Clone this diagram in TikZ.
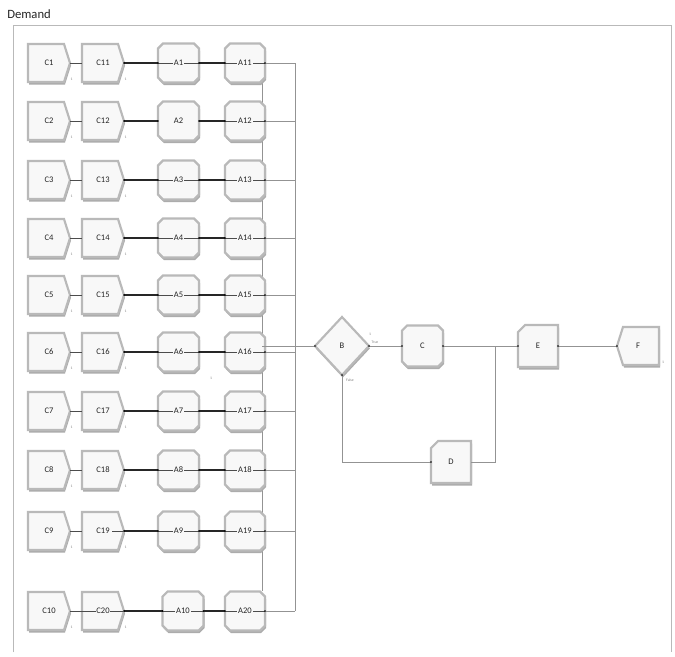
\documentclass[tikz,border=0pt]{standalone}
\usepackage{fontspec}
\setmainfont{Carlito}
\usetikzlibrary{calc}
\pgfdeclarelayer{bg}\pgfdeclarelayer{mid}
\pgfsetlayers{bg,mid,main}
\definecolor{boxfill}{HTML}{F8F8F8}
\tikzset{
 mod/.style={draw=none, fill=none, inner sep=0pt, outer sep=0pt},
 lab/.style={font=\fontsize{6.4}{7}\selectfont, fill=boxfill, inner sep=0.6pt, text=black!85},
 modedge/.style={draw=gray!55, line width=1.6pt, fill=boxfill, line join=miter},
 modshadow/.style={fill=gray!65},
 thinline/.style={draw=black!70, line width=0.45pt},
 thickline/.style={draw=black!85, line width=0.85pt},
 busline/.style={draw=gray!85, line width=0.6pt},
 tinylab/.style={font=\fontsize{2.8}{3}\selectfont, text=gray, inner sep=0pt},
 dotmark/.style={fill=black, circle, inner sep=0pt, minimum size=1.4pt}
}
\newcommand\shcreate[1]{%
  \path[modshadow] ($(#1.north west)+(1,2.5)$) -- ($(#1.north east)+(-5,2.5)$) -- ($(#1.east)+(1,2.5)$) -- ($(#1.south east)+(-5,2.5)$) -- ($(#1.south west)+(1,2.5)$) -- cycle;
  \path[modedge] (#1.north west) -- ($(#1.north east)+(-6,0)$) -- (#1.east) -- ($(#1.south east)+(-6,0)$) -- (#1.south west) -- cycle;}
\newcommand\shoct[1]{%
  \path[modshadow] ($(#1.north west)+(6,2.5)$) -- ($(#1.north east)+(-4,2.5)$) -- ($(#1.north east)+(1,7.5)$) -- ($(#1.south east)+(1,-2.5)$) -- ($(#1.south east)+(-4,2.5)$) -- ($(#1.south west)+(6,2.5)$) -- ($(#1.south west)+(1,-2.5)$) -- ($(#1.north west)+(1,7.5)$) -- cycle;
  \path[modedge] ($(#1.north west)+(5,0)$) -- ($(#1.north east)+(-5,0)$) -- ($(#1.north east)+(0,5)$) -- ($(#1.south east)+(0,-5)$) -- ($(#1.south east)+(-5,0)$) -- ($(#1.south west)+(5,0)$) -- ($(#1.south west)+(0,-5)$) -- ($(#1.north west)+(0,5)$) -- cycle;}
\newcommand\shcut[1]{%
  \path[modshadow] ($(#1.north west)+(8,2.5)$) -- ($(#1.north east)+(1,2.5)$) -- ($(#1.south east)+(1,2.5)$) -- ($(#1.south west)+(1,2.5)$) -- ($(#1.north west)+(1,9.5)$) -- cycle;
  \path[modedge] ($(#1.north west)+(7,0)$) -- (#1.north east) -- (#1.south east) -- (#1.south west) -- ($(#1.north west)+(0,7)$) -- cycle;}
\newcommand\shdispose[1]{%
  \path[modshadow] ($(#1.north west)+(7,2.5)$) -- ($(#1.north east)+(1,2.5)$) -- ($(#1.south east)+(1,2.5)$) -- ($(#1.south west)+(7,2.5)$) -- ($(#1.west)+(1,2.5)$) -- cycle;
  \path[modedge] ($(#1.north west)+(6,0)$) -- (#1.north east) -- (#1.south east) -- ($(#1.south west)+(6,0)$) -- (#1.west) -- cycle;}
\newcommand\shdiamond[1]{%
  \path[modshadow] ($(#1.north)+(0.8,2.5)$) -- ($(#1.east)+(0.8,2.5)$) -- ($(#1.south)+(0.8,2.5)$) -- ($(#1.west)+(0.8,2.5)$) -- cycle;
  \path[modedge] (#1.north) -- (#1.east) -- (#1.south) -- (#1.west) -- cycle;}
\begin{document}
\begin{tikzpicture}[x=0.75pt,y=-0.75pt]
\useasboundingbox (0,0) rectangle (675,657);
\begin{pgfonlayer}{bg}
\fill[white] (0,0) rectangle (675,657);
\end{pgfonlayer}
% frame and title
\draw[gray!55, line width=0.7pt] (13,652) -- (13,25) -- (671,25) -- (671,652);
\node[anchor=west, font=\fontsize{9.5}{10}\selectfont, inner sep=0pt, text=black!85] (title) at (7,14) {Demand};
% collecting line behind the modules
\coordinate (j1) at (262,346);
\coordinate (v1) at (262,82);
\coordinate (v2) at (262,591);
\begin{pgfonlayer}{bg}
  \draw[busline] (v1) -- (v2);
\end{pgfonlayer}
% modules of the ten rows
\foreach \i/\y/\p in {1/63/1,2/121/0,3/180/1,4/238/1,5/295/1,6/352/1,7/411/1,8/470/1,9/531/1,10/611/1}{
  \pgfmathtruncatemacro\j{\i+10}
  \ifnum\i=10 \def\ax{183}\else\def\ax{178.5}\fi
  \node[mod, minimum width=31.5pt, minimum height=28.5pt, label={[lab]center:C\i}] (c\i) at (49,\y) {};
  \node[mod, minimum width=31.5pt, minimum height=28.5pt, label={[lab]center:C\j}] (cc\i) at (103,\y) {};
  \node[mod, minimum width=30.75pt, minimum height=29.25pt, label={[lab]center:A\i}] (a\i) at (\ax,\y) {};
  \node[mod, minimum width=30pt, minimum height=29.25pt, label={[lab]center:A\j}] (aa\i) at (245,\y) {};
  \coordinate (bus\i) at (295,\y);
  \begin{pgfonlayer}{bg}
    \shcreate{c\i}
    \shcreate{cc\i}
    \shoct{a\i}
    \shoct{aa\i}
  \end{pgfonlayer}
  \begin{pgfonlayer}{mid}
    \draw[thinline] (c\i.east) -- (cc\i.west);
    \draw[thickline] (cc\i.east) -- (a\i.west);
    \draw[thickline] (a\i.east) -- (aa\i.west);
    \draw[busline] (aa\i.east) -- (bus\i);
    \ifnum\p=1 \draw[thinline] (a\i.west) -- (a\i.east);\fi
    \draw[thinline] (aa\i.west) -- (aa\i.east);
    \node[dotmark] at (cc\i.east) {};
    \node[dotmark] at (a\i.west) {};
    \node[dotmark] at (a\i.east) {};
    \node[dotmark] at (aa\i.west) {};
    \node[dotmark] at (aa\i.east) {};
  \end{pgfonlayer}
  \node[tinylab] at ($(c\i.south east)+(1.5,-3)$) {1};
  \node[tinylab] at ($(cc\i.south east)+(1.5,-3)$) {1};
}
\begin{pgfonlayer}{mid}
  \draw[thinline] (cc9.east) -- ++(-12,0);
  \draw[thinline] (cc10.west) -- (cc10.east);
\end{pgfonlayer}
\draw[busline] (bus1) -- (bus10);
% decision and following modules
\node[mod, minimum width=40.5pt, minimum height=43.5pt, label={[lab]center:B}] (B) at (342,346) {};
\node[mod, minimum width=30.75pt, minimum height=30.75pt, label={[lab]center:C}] (C) at (422.5,346) {};
\node[mod, minimum width=30pt, minimum height=31.5pt, label={[lab]center:E}] (E) at (538,346) {};
\node[mod, minimum width=31.5pt, minimum height=28.5pt, label={[lab]center:F}] (F) at (638,346) {};
\node[mod, minimum width=30pt, minimum height=31.5pt, label={[lab]center:D}] (D) at (451,462) {};
\coordinate (j2) at (495,346);
\begin{pgfonlayer}{bg}
  \draw[busline] (j1) -- (B.west);
  \shdiamond{B}
  \shoct{C}
  \shcut{E}
  \shcut{D}
  \shdispose{F}
\end{pgfonlayer}
\begin{pgfonlayer}{mid}
  \draw[busline] (B.east) -- (C.west);
  \draw[busline] (C.east) -- (E.west);
  \draw[busline] (D.east) -| (j2);
  \draw[busline] (B.south) |- (D.west);
  \draw[busline] (E.east) -- (F.west);
  \foreach \n in {B.west,B.east,B.south,C.west,C.east,E.west,E.east,F.west,D.west}{\node[dotmark] at (\n) {};}
\end{pgfonlayer}
\node[tinylab] (t1) at (370,334) {1};
\node[tinylab] (tt) at (375,342) {True};
\node[tinylab] (tf) at (350,380) {False};
\node[tinylab] (tz) at (211,378) {1};
\node[tinylab] (tF) at ($(F.south east)+(4,-3)$) {1};
\end{tikzpicture}
\end{document}
